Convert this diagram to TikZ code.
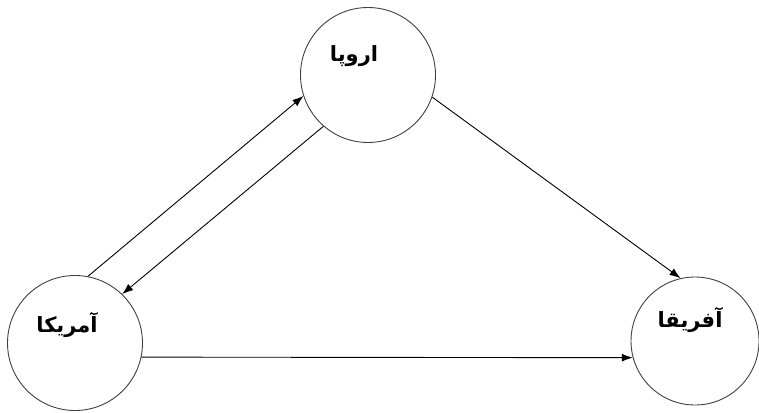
\documentclass[tikz,border=0pt]{standalone}
\usepackage{fontspec}
\usetikzlibrary{arrows.meta}
\newfontfamily\arabicfont[Script=Arabic,BoldFont={DejaVu Sans Bold}]{DejaVu Sans}
\TeXXeTstate=1
\begin{document}
\begin{tikzpicture}[x=1pt,y=-1pt,
  region/.style={circle,draw=black!75,line width=0.9pt,minimum size=135pt,inner sep=0pt},
  regtext/.style={font=\arabicfont\bfseries\fontsize{21}{24}\selectfont,inner sep=0pt},
  flow/.style={draw=black,line width=0.9pt,-{Latex[length=11pt,width=8pt]}}]
\useasboundingbox (0,0) rectangle (759,412);
\node[region] (eu) at (368,75) {};
\node[region] (am) at (75,343) {};
\node[region,minimum size=128pt] (af) at (695,341) {};
\node[regtext] (eut) at (354,56) {\beginR اروپا\endR};
\node[regtext] (amt) at (67,325) {\beginR آمریکا\endR};
\node[regtext] (aft) at (690,320) {\beginR آفریقا\endR};
\draw[flow] (am.79) -- (eu.198);
\draw[flow] (eu.229) -- (am.46);
\draw[flow] (eu.-19) -- (af.103);
\draw[flow] (am.-12) -- (af.195);
\end{tikzpicture}
\end{document}
